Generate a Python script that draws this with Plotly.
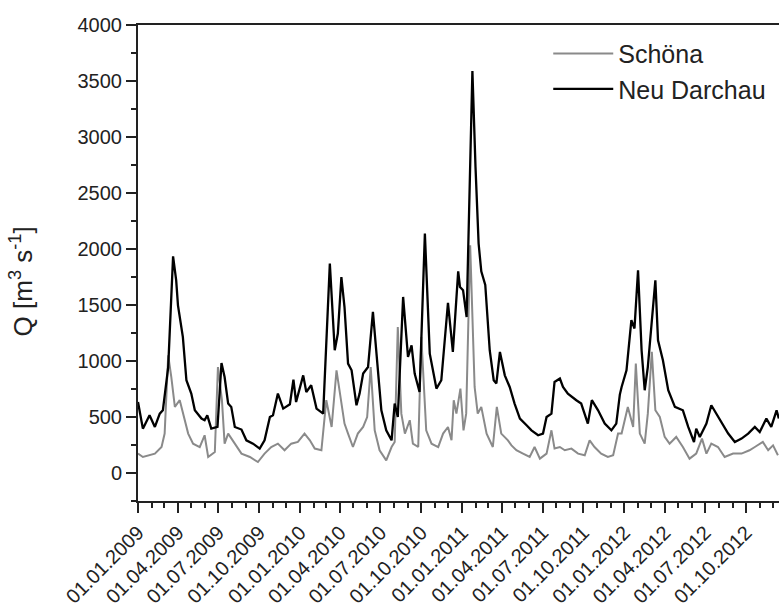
import plotly.graph_objects as go

# Daily discharge of the Elbe, 2009-2012 (m³/s), read at turning points
nd_dates = [
    "2009-01-01", "2009-01-12", "2009-01-27", "2009-02-08", "2009-02-19", "2009-02-26",
    "2009-03-10", "2009-03-21", "2009-03-28", "2009-04-01", "2009-04-12", "2009-04-20",
    "2009-05-01", "2009-05-09", "2009-05-24", "2009-05-31", "2009-06-06", "2009-06-15",
    "2009-06-29", "2009-07-08", "2009-07-15", "2009-07-23", "2009-07-30", "2009-08-07",
    "2009-08-22", "2009-09-02", "2009-09-17", "2009-10-02", "2009-10-13", "2009-10-25",
    "2009-11-01", "2009-11-12", "2009-11-24", "2009-12-09", "2009-12-17", "2009-12-23",
    "2010-01-08", "2010-01-15", "2010-01-26", "2010-02-07", "2010-02-22", "2010-03-01",
    "2010-03-09", "2010-03-20", "2010-03-27", "2010-04-04", "2010-04-11", "2010-04-19",
    "2010-04-27", "2010-05-08", "2010-05-15", "2010-05-23", "2010-06-03", "2010-06-14",
    "2010-06-22", "2010-07-03", "2010-07-14", "2010-07-26", "2010-08-02", "2010-08-09",
    "2010-08-21", "2010-09-01", "2010-09-09", "2010-09-16", "2010-09-27", "2010-10-09",
    "2010-10-20", "2010-11-04", "2010-11-15", "2010-11-30", "2010-12-11", "2010-12-23",
    "2010-12-27", "2011-01-03", "2011-01-11", "2011-01-18", "2011-01-24", "2011-01-31",
    "2011-02-07", "2011-02-13", "2011-02-22", "2011-03-04", "2011-03-13", "2011-03-19",
    "2011-03-27", "2011-04-07", "2011-04-18", "2011-04-29", "2011-05-11", "2011-05-26",
    "2011-06-06", "2011-06-21", "2011-07-02", "2011-07-10", "2011-07-21", "2011-07-28",
    "2011-08-09", "2011-08-16", "2011-08-27", "2011-09-15", "2011-09-26", "2011-10-11",
    "2011-10-20", "2011-11-03", "2011-11-18", "2011-12-03", "2011-12-14", "2011-12-22",
    "2011-12-26", "2012-01-06", "2012-01-17", "2012-01-24", "2012-02-01", "2012-02-09",
    "2012-02-16", "2012-02-23", "2012-03-02", "2012-03-11", "2012-03-17", "2012-03-28",
    "2012-04-09", "2012-04-24", "2012-05-12", "2012-05-24", "2012-06-06", "2012-06-11",
    "2012-06-19", "2012-07-04", "2012-07-15", "2012-07-26", "2012-08-07", "2012-08-22",
    "2012-09-06", "2012-09-21", "2012-10-06", "2012-10-21", "2012-11-01", "2012-11-16",
    "2012-11-27", "2012-12-09", "2012-12-14",
]
nd_q = [
    634, 396, 515, 411, 530, 560,
    946, 1935, 1720, 1497, 1215, 828,
    709, 560, 486, 471, 515, 396,
    411, 982, 857, 620, 590, 411,
    388, 292, 262, 218, 292, 500,
    515, 709, 575, 613, 834, 634,
    872, 723, 783, 575, 530, 1125,
    1870, 1096, 1245, 1750, 1482, 977,
    917, 605, 709, 888, 946, 1438,
    1036, 560, 381, 292, 620, 500,
    1572, 1036, 1140, 888, 723, 2138,
    1066, 754, 828, 1520, 1081, 1800,
    1661, 1631, 1393, 2584, 3590, 2733,
    2049, 1800, 1680, 1096, 828, 800,
    1081, 872, 768, 620, 486, 426,
    381, 337, 352, 500, 530, 813,
    843, 768, 709, 650, 620, 441,
    650, 560, 441, 381, 441, 700,
    768, 917, 1364, 1290, 1810, 1096,
    739, 946, 1334, 1721, 1185, 1006,
    739, 590, 560, 411, 277, 396,
    322, 441, 605, 530, 441, 352,
    277, 307, 352, 411, 366, 486,
    411, 560, 486,
]

sc_dates = [
    "2009-01-01", "2009-01-12", "2009-02-08", "2009-02-23", "2009-03-02", "2009-03-10",
    "2009-03-17", "2009-03-25", "2009-04-05", "2009-04-12", "2009-04-24", "2009-05-05",
    "2009-05-20", "2009-05-31", "2009-06-08", "2009-06-23", "2009-06-30", "2009-07-09",
    "2009-07-15", "2009-07-23", "2009-08-07", "2009-08-22", "2009-09-10", "2009-09-28",
    "2009-10-13", "2009-10-28", "2009-11-12", "2009-11-27", "2009-12-12", "2009-12-27",
    "2010-01-11", "2010-01-23", "2010-02-03", "2010-02-18", "2010-03-01", "2010-03-13",
    "2010-03-24", "2010-04-04", "2010-04-11", "2010-04-19", "2010-04-30", "2010-05-11",
    "2010-05-23", "2010-06-01", "2010-06-09", "2010-06-18", "2010-06-29", "2010-07-14",
    "2010-07-26", "2010-08-02", "2010-08-09", "2010-08-17", "2010-08-25", "2010-09-05",
    "2010-09-12", "2010-09-24", "2010-10-01", "2010-10-12", "2010-10-24", "2010-11-08",
    "2010-11-19", "2010-11-30", "2010-12-08", "2010-12-13", "2010-12-19", "2010-12-28",
    "2011-01-04", "2011-01-10", "2011-01-19", "2011-01-29", "2011-02-05", "2011-02-13",
    "2011-02-25", "2011-03-11", "2011-03-20", "2011-03-30", "2011-04-14", "2011-04-22",
    "2011-05-03", "2011-05-18", "2011-06-02", "2011-06-13", "2011-06-25", "2011-07-10",
    "2011-07-21", "2011-07-28", "2011-08-09", "2011-08-20", "2011-09-04", "2011-09-19",
    "2011-10-04", "2011-10-15", "2011-10-26", "2011-11-10", "2011-11-25", "2011-12-07",
    "2011-12-18", "2011-12-26", "2012-01-09", "2012-01-21", "2012-01-27", "2012-02-05",
    "2012-02-16", "2012-02-23", "2012-03-03", "2012-03-11", "2012-03-21", "2012-04-01",
    "2012-04-12", "2012-04-27", "2012-05-12", "2012-05-27", "2012-06-11", "2012-06-24",
    "2012-07-04", "2012-07-15", "2012-07-30", "2012-08-14", "2012-09-02", "2012-09-21",
    "2012-10-09", "2012-10-21", "2012-11-08", "2012-11-20", "2012-12-01", "2012-12-12",
]
sc_q = [
    173, 143, 173, 232, 352, 1050,
    857, 590, 650, 530, 352, 262,
    232, 337, 143, 188, 946, 650,
    262, 352, 262, 173, 143, 98,
    173, 232, 262, 203, 262, 277,
    352, 292, 218, 203, 650, 411,
    917, 650, 441, 352, 232, 352,
    411, 500, 946, 381, 203, 113,
    232, 277, 1304, 530, 352, 471,
    262, 232, 1215, 381, 262, 232,
    352, 411, 292, 650, 530, 754,
    381, 530, 2033, 768, 530, 590,
    352, 232, 590, 352, 292, 247,
    203, 173, 143, 232, 128, 173,
    381, 218, 232, 203, 218, 173,
    158, 292, 232, 173, 143, 158,
    352, 352, 590, 411, 977, 352,
    262, 530, 1081, 560, 500, 322,
    262, 322, 232, 128, 173, 307,
    173, 262, 232, 143, 173, 173,
    203, 232, 277, 203, 247, 158,
]

FONT = "Liberation Sans, Arial, sans-serif"
INK = "#222222"

fig = go.Figure()
fig.add_trace(go.Scatter(
    x=sc_dates, y=sc_q, mode="lines", name="Schöna",
    line=dict(color="#8a8a8a", width=2),
))
fig.add_trace(go.Scatter(
    x=nd_dates, y=nd_q, mode="lines", name="Neu Darchau",
    line=dict(color="#000000", width=2.3),
))

fig.update_layout(
    width=779, height=612,
    margin=dict(l=138, r=0, t=25, b=111),
    paper_bgcolor="white", plot_bgcolor="white",
    font=dict(family=FONT, color=INK),
    showlegend=True,
    legend=dict(
        x=0.64, y=0.988, xanchor="left", yanchor="top",
        font=dict(size=25, color=INK),
        bgcolor="rgba(0,0,0,0)", borderwidth=0,
        itemwidth=60, tracegroupgap=0,
    ),
    xaxis=dict(
        type="date",
        range=["2009-01-01", "2012-12-14 10:00"],
        tick0="2009-01-01", dtick="M3",
        tickformat="%d.%m.%Y", tickangle=-45,
        tickfont=dict(size=20, color=INK),
        ticks="outside", ticklen=10, tickwidth=1.5, tickcolor=INK,
        minor=dict(dtick="M1", ticks="outside", ticklen=5, tickwidth=1.5, tickcolor=INK),
        showline=True, linecolor=INK, linewidth=2, mirror=True,
        showgrid=False, zeroline=False,
    ),
    yaxis=dict(
        range=[-250, 4000],
        tick0=0, dtick=500,
        tickfont=dict(size=20, color=INK),
        ticks="outside", ticklen=10, tickwidth=1.5, tickcolor=INK,
        minor=dict(dtick=250, ticks="outside", ticklen=5, tickwidth=1.5, tickcolor=INK),
        showline=True, linecolor=INK, linewidth=2,
        showgrid=False, zeroline=False,
    ),
    annotations=[dict(
        text="Q [m<sup>3</sup> s<sup>-1</sup>]",
        xref="paper", yref="paper", x=-0.182, y=0.462,
        xanchor="center", yanchor="middle", textangle=-90,
        showarrow=False, font=dict(size=26, color=INK),
    )],
)

fig.write_html("out.html")
